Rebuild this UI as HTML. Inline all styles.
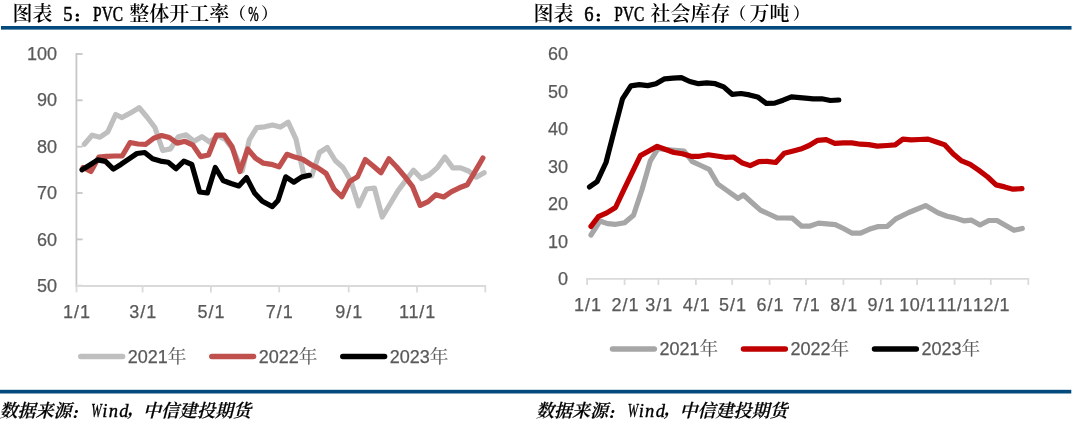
<!DOCTYPE html>
<html lang="zh-CN"><head><meta charset="utf-8"><title>PVC</title>
<style>
html,body{margin:0;padding:0;background:#fff;}
body{width:1080px;height:425px;overflow:hidden;position:relative;}
svg{position:absolute;left:0;top:0;display:block;}
.t{font-family:"Liberation Serif","Noto Serif CJK SC",serif;font-size:20px;fill:#000;font-weight:600;}
.tl{font-size:21.6px;font-weight:400;stroke:#000;stroke-width:0.55px;}
.tp{font-size:16.8px;}
.tc{font-size:11.2px;stroke:#000;stroke-width:1.7px;stroke-linejoin:round;}
.f{font-family:"Liberation Serif","Noto Serif CJK SC",serif;font-size:18px;fill:#000;font-style:italic;font-weight:600;stroke:#000;stroke-width:0.2px;}
.fc{font-size:13px;stroke:#000;stroke-width:0.9px;stroke-linejoin:round;}
.fl{font-weight:400;stroke:#000;stroke-width:0.35px;font-size:18.5px;}
.a{font-family:"Liberation Sans","Noto Sans CJK SC",sans-serif;font-size:18px;fill:#595959;stroke:#595959;stroke-width:0.25px;}
.lg{font-family:"Liberation Sans","Noto Serif CJK SC",sans-serif;font-size:18px;fill:#595959;stroke:#595959;stroke-width:0.25px;}
.ny{font-size:18.7px;stroke-width:0.1px;}
</style></head><body>
<svg width="1080" height="425" viewBox="0 0 1080 425">
<rect x="0" y="0" width="1080" height="425" fill="#ffffff"/>
<rect x="1" y="26" width="1070.5" height="3.6" fill="#044a7c"/>
<rect x="0" y="389.8" width="1071.3" height="3.7" fill="#044a7c"/>
<text class="t" y="21"><tspan x="12.5">图表 </tspan><tspan class="tl" x="63.2" textLength="9.3" lengthAdjust="spacingAndGlyphs">5</tspan><tspan class="tc" x="74.5" dy="-0.3">：</tspan><tspan class="tl" x="93.1" dy="0.3" textLength="30" lengthAdjust="spacingAndGlyphs">PVC</tspan><tspan x="125.0" font-size="2"> </tspan><tspan x="129.3">整体开工率</tspan><tspan class="tp" x="229.2" dy="-1.1">（</tspan><tspan class="tl" x="248.2" dy="1.1" textLength="10.4" lengthAdjust="spacingAndGlyphs">%</tspan><tspan class="tp" x="261" dy="-1.1">）</tspan></text>
<text class="t" y="21"><tspan x="533.6">图表 </tspan><tspan class="tl" x="584.3" textLength="9.3" lengthAdjust="spacingAndGlyphs">6</tspan><tspan class="tc" x="595.6" dy="-0.3">：</tspan><tspan class="tl" x="614.2" dy="0.3" textLength="30" lengthAdjust="spacingAndGlyphs">PVC</tspan><tspan x="646.1" font-size="2"> </tspan><tspan x="650.4">社会库存</tspan><tspan class="tp" x="729.5" dy="-1.1">（</tspan><tspan x="749.6" dy="1.1">万吨</tspan><tspan class="tp" x="792.8" dy="-1.1">）</tspan></text>
<text class="f" y="416.6"><tspan x="-0.5">数据来源</tspan><tspan class="fc" x="71.6" dy="1">：</tspan><tspan class="fl" x="91.3" dy="-1" textLength="10.4" lengthAdjust="spacingAndGlyphs">W</tspan><tspan class="fl" x="102.3" textLength="26.2" lengthAdjust="spacing">ind</tspan><tspan x="127.3" dy="-2">，</tspan><tspan x="143.0" dy="2">中信建投期货</tspan></text>
<text class="f" y="416.6"><tspan x="535.9">数据来源</tspan><tspan class="fc" x="608.0" dy="1">：</tspan><tspan class="fl" x="627.7" dy="-1" textLength="10.4" lengthAdjust="spacingAndGlyphs">W</tspan><tspan class="fl" x="638.7" textLength="26.2" lengthAdjust="spacing">ind</tspan><tspan x="663.7" dy="-2">，</tspan><tspan x="679.4" dy="2">中信建投期货</tspan></text>
<g stroke="#c6c6c6" stroke-width="1.8" fill="none">
<path d="M76.4,53.1 V286"/>
<path d="M76.4,54.0 H82.6"/>
<path d="M76.4,100.3 H82.6"/>
<path d="M76.4,146.7 H82.6"/>
<path d="M76.4,193.0 H82.6"/>
<path d="M76.4,239.4 H82.6"/>
<path d="M76.4,285.7 H82.6"/>
</g>
<g stroke="#dadada" stroke-width="1.8" fill="none">
<path d="M75.4,286 H486.1"/>
<path d="M76.5,286 V292.4"/>
<path d="M142.6,286 V292.4"/>
<path d="M210.9,286 V292.4"/>
<path d="M279.2,286 V292.4"/>
<path d="M348.7,286 V292.4"/>
<path d="M417.0,286 V292.4"/>
<path d="M485.3,286 V292.4"/>
</g>
<text class="a" x="57" y="60.1" text-anchor="end">100</text>
<text class="a" x="57" y="106.4" text-anchor="end">90</text>
<text class="a" x="57" y="152.8" text-anchor="end">80</text>
<text class="a" x="57" y="199.1" text-anchor="end">70</text>
<text class="a" x="57" y="245.5" text-anchor="end">60</text>
<text class="a" x="57" y="291.8" text-anchor="end">50</text>
<text class="a" x="77.1" y="317.8" text-anchor="middle" letter-spacing="1">1/1</text>
<text class="a" x="143.2" y="317.8" text-anchor="middle" letter-spacing="1">3/1</text>
<text class="a" x="211.5" y="317.8" text-anchor="middle" letter-spacing="1">5/1</text>
<text class="a" x="279.8" y="317.8" text-anchor="middle" letter-spacing="1">7/1</text>
<text class="a" x="349.3" y="317.8" text-anchor="middle" letter-spacing="1">9/1</text>
<text class="a" x="417.5" y="317.8" text-anchor="middle" letter-spacing="0.8">11/1</text>
<polyline points="84.3,144.3 92.1,135.2 100.0,137.2 107.8,131.8 115.7,114.5 122.0,117.6 131.3,112.4 139.2,107.8 147.0,117.0 154.9,127.5 162.7,150.5 170.5,148.9 178.4,136.7 186.2,134.9 194.1,141.3 201.9,136.7 209.7,142.0 217.6,136.0 225.4,139.5 233.3,150.0 242.2,171.0 249.3,139.8 256.8,127.6 264.6,126.8 272.5,125.0 280.3,127.1 288.1,122.2 296.0,139.1 303.8,175.0 311.7,176.0 319.5,152.5 327.3,147.5 335.2,160.5 343.0,167.5 350.9,181.0 358.7,205.9 366.5,189.0 374.4,188.0 382.2,217.0 390.1,204.0 397.9,190.9 405.7,180.5 413.6,170.2 421.4,178.6 429.3,174.8 437.1,167.9 444.9,157.0 452.8,167.9 460.6,167.9 468.5,171.0 476.3,177.1 484.1,172.8" fill="none" stroke="#bfbfbf" stroke-width="5.2" stroke-linecap="round" stroke-linejoin="round"/>
<polyline points="83.1,167.5 90.9,171.5 98.8,157.2 106.6,156.3 114.5,156.0 122.3,155.8 130.1,142.5 138.0,144.0 145.8,144.3 153.7,138.2 161.5,135.5 169.3,137.5 177.2,143.1 185.0,141.3 192.9,145.1 200.7,156.6 208.5,155.0 216.4,135.2 224.2,135.2 232.1,146.7 239.9,171.5 247.7,149.0 255.6,158.2 263.4,163.2 271.3,164.3 279.1,166.9 286.9,154.3 294.8,157.1 302.6,159.2 310.5,164.3 318.3,168.1 326.1,173.5 334.0,189.0 341.8,196.7 349.7,181.4 357.5,176.8 365.3,159.5 373.2,166.0 381.0,172.8 388.9,158.8 396.7,167.0 404.5,176.2 412.4,186.3 420.2,205.4 428.1,201.6 435.9,194.7 443.7,197.0 451.6,191.6 459.4,187.8 467.3,184.8 475.1,171.4 482.9,158.0" fill="none" stroke="#c0504d" stroke-width="5.2" stroke-linecap="round" stroke-linejoin="round"/>
<polyline points="82.0,169.8 89.8,165.0 97.7,159.9 105.5,161.4 113.4,169.1 121.2,164.2 129.0,158.8 136.9,153.5 144.7,152.5 152.6,158.7 160.4,161.1 168.2,162.2 176.1,168.7 183.9,161.1 191.8,164.5 199.6,192.0 207.4,193.0 215.3,167.5 223.1,180.5 231.0,183.5 238.8,186.0 246.6,177.6 254.5,192.9 262.3,201.3 272.4,206.6 278.0,200.5 285.8,176.8 293.7,182.2 301.5,177.1 309.4,175.3" fill="none" stroke="#000000" stroke-width="5.2" stroke-linecap="round" stroke-linejoin="round"/>
<path d="M80.8,356.5 H122.6" stroke="#bfbfbf" stroke-width="5.5" stroke-linecap="round" fill="none"/>
<text class="lg" x="127.8" y="362.7">2021<tspan class="ny">年</tspan></text>
<path d="M211.8,356.5 H253.6" stroke="#c0504d" stroke-width="5.5" stroke-linecap="round" fill="none"/>
<text class="lg" x="258.8" y="362.7">2022<tspan class="ny">年</tspan></text>
<path d="M342.8,356.5 H384.6" stroke="#000000" stroke-width="5.5" stroke-linecap="round" fill="none"/>
<text class="lg" x="389.8" y="362.7">2023<tspan class="ny">年</tspan></text>
<g stroke="#dadada" stroke-width="1.8" fill="none">
<path d="M586.1,278.8 H1029.2"/>
<path d="M587.1,278.8 V284.9"/>
<path d="M624.6,278.8 V284.9"/>
<path d="M658.4,278.8 V284.9"/>
<path d="M695.9,278.8 V284.9"/>
<path d="M732.2,278.8 V284.9"/>
<path d="M769.6,278.8 V284.9"/>
<path d="M805.9,278.8 V284.9"/>
<path d="M843.4,278.8 V284.9"/>
<path d="M880.8,278.8 V284.9"/>
<path d="M917.1,278.8 V284.9"/>
<path d="M954.6,278.8 V284.9"/>
<path d="M990.8,278.8 V284.9"/>
<path d="M1028.3,278.8 V284.9"/>
</g>
<text class="a" x="568" y="60.1" text-anchor="end">60</text>
<text class="a" x="568" y="97.6" text-anchor="end">50</text>
<text class="a" x="568" y="135.1" text-anchor="end">40</text>
<text class="a" x="568" y="172.7" text-anchor="end">30</text>
<text class="a" x="568" y="210.2" text-anchor="end">20</text>
<text class="a" x="568" y="247.7" text-anchor="end">10</text>
<text class="a" x="568" y="285.2" text-anchor="end">0</text>
<text class="a" x="587.9" y="311.2" text-anchor="middle" letter-spacing="1">1/1</text>
<text class="a" x="625.4" y="311.2" text-anchor="middle" letter-spacing="1">2/1</text>
<text class="a" x="659.2" y="311.2" text-anchor="middle" letter-spacing="1">3/1</text>
<text class="a" x="696.7" y="311.2" text-anchor="middle" letter-spacing="1">4/1</text>
<text class="a" x="733.0" y="311.2" text-anchor="middle" letter-spacing="1">5/1</text>
<text class="a" x="770.4" y="311.2" text-anchor="middle" letter-spacing="1">6/1</text>
<text class="a" x="806.7" y="311.2" text-anchor="middle" letter-spacing="1">7/1</text>
<text class="a" x="844.2" y="311.2" text-anchor="middle" letter-spacing="1">8/1</text>
<text class="a" x="881.6" y="311.2" text-anchor="middle" letter-spacing="1">9/1</text>
<text class="a" x="917.7" y="311.2" text-anchor="middle" letter-spacing="0.5">10/1</text>
<text class="a" x="955.2" y="311.2" text-anchor="middle" letter-spacing="0.5">11/1</text>
<text class="a" x="991.4" y="311.2" text-anchor="middle" letter-spacing="0.5">12/1</text>
<polyline points="591.0,235.0 599.9,221.0 607.5,223.6 615.9,224.3 624.6,222.8 633.5,215.2 641.9,190.0 650.3,160.9 658.0,148.7 666.5,149.5 675.0,150.3 684.0,151.0 692.4,161.7 700.8,165.5 709.2,169.4 717.8,184.0 726.3,190.0 738.0,198.4 743.3,194.8 751.8,202.5 760.4,210.1 768.8,214.0 777.2,217.8 785.0,218.0 792.5,218.2 801.7,226.2 809.3,226.2 818.5,223.1 827.0,223.8 835.3,224.6 843.5,228.5 852.2,233.2 860.6,233.2 869.1,229.3 877.5,226.7 887.4,226.3 895.8,218.9 908.8,212.5 925.6,205.6 937.9,212.8 947.0,216.3 954.7,217.9 963.7,220.8 971.6,220.2 980.0,225.0 988.8,220.5 997.0,220.5 1014.0,230.3 1022.3,228.5" fill="none" stroke="#a6a6a6" stroke-width="5.2" stroke-linecap="round" stroke-linejoin="round"/>
<polyline points="591.0,226.4 598.3,216.7 606.8,212.9 615.5,207.5 623.7,190.2 632.0,172.8 640.4,155.6 648.8,151.0 657.2,146.4 665.6,149.5 674.0,152.5 682.4,153.7 690.9,156.3 699.3,156.3 708.4,154.8 716.8,156.0 725.3,157.3 733.5,157.0 741.8,162.7 750.2,165.6 758.9,161.6 767.0,161.3 775.8,162.5 784.2,153.3 792.3,151.3 800.7,149.1 809.1,145.5 817.8,140.3 826.2,139.6 834.8,143.4 843.5,142.9 851.9,142.9 860.3,144.2 868.7,144.6 877.3,146.1 886.8,145.5 895.2,144.9 902.9,139.1 911.3,139.8 919.7,139.5 928.1,139.1 936.5,142.0 944.9,144.9 953.3,154.1 961.7,160.9 970.2,164.4 978.6,170.1 987.7,177.0 996.1,184.9 1004.6,186.9 1013.0,189.2 1022.0,188.6" fill="none" stroke="#c00000" stroke-width="5.2" stroke-linecap="round" stroke-linejoin="round"/>
<polyline points="589.5,186.9 597.1,181.6 606.0,162.5 614.4,129.8 622.5,98.9 630.9,85.9 639.3,84.6 647.7,85.6 656.0,83.7 664.6,78.8 673.0,78.2 681.4,77.7 689.8,81.5 698.5,83.7 706.9,82.9 715.3,83.7 723.7,86.9 732.1,94.3 741.0,93.5 749.5,94.9 757.6,96.9 766.3,103.4 774.7,103.1 783.1,100.2 791.4,96.9 799.8,97.6 808.2,98.3 813.1,98.8 821.8,98.8 830.5,100.5 838.8,100.0" fill="none" stroke="#000000" stroke-width="5.2" stroke-linecap="round" stroke-linejoin="round"/>
<path d="M612.5,349.0 H654.3" stroke="#a6a6a6" stroke-width="5.5" stroke-linecap="round" fill="none"/>
<text class="lg" x="659.5" y="355.2">2021<tspan class="ny">年</tspan></text>
<path d="M743.5,349.0 H785.3" stroke="#c00000" stroke-width="5.5" stroke-linecap="round" fill="none"/>
<text class="lg" x="790.5" y="355.2">2022<tspan class="ny">年</tspan></text>
<path d="M874.5,349.0 H916.3" stroke="#000000" stroke-width="5.5" stroke-linecap="round" fill="none"/>
<text class="lg" x="921.5" y="355.2">2023<tspan class="ny">年</tspan></text>
</svg></body></html>
